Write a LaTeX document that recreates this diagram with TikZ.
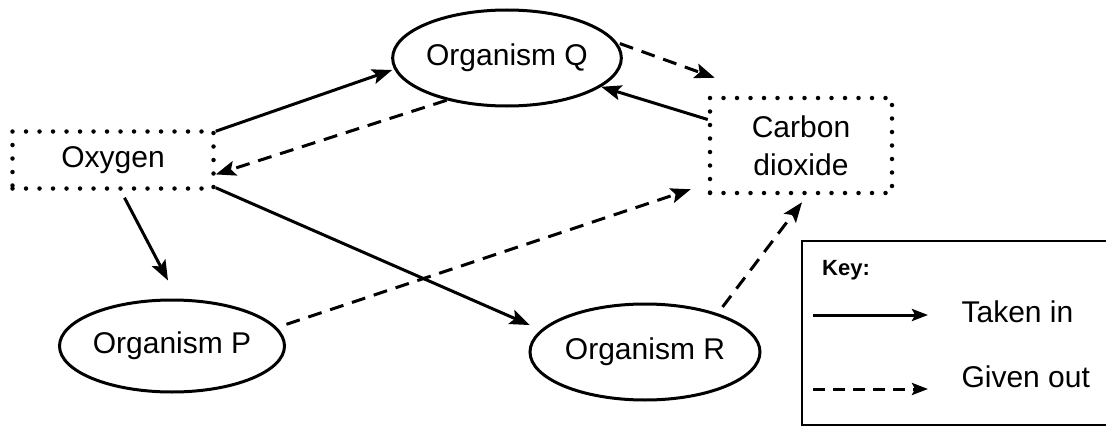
\documentclass[tikz,border=0pt]{standalone}
\usepackage{fontspec}
\setmainfont{Liberation Sans}
\usetikzlibrary{shapes.geometric,arrows.meta}
\begin{document}
\begin{tikzpicture}[x=1pt,y=-1pt,
  every node/.style={font=\fontsize{30}{38}\selectfont},
  org/.style={ellipse,draw,line width=3pt,inner sep=0pt},
  dotbox/.style={draw,line width=4.5pt,dash pattern=on 0pt off 13.5pt,line cap=round,inner sep=0pt,align=center},
  tipA/.style={-{Stealth[length=20pt,width=15pt,inset=4pt]}},
  takein/.style={tipA,line width=3pt},
  giveout/.style={tipA,line width=3pt,dash pattern=on 14pt off 9pt},
  keytip/.style={-{Stealth[length=16pt,width=12pt,inset=3pt]},line width=3pt}]
\useasboundingbox (0,0) rectangle (1106,428);
% nodes
\node[org,minimum width=214pt,minimum height=96pt] (q) at (507,58) {Organism Q};
\node[org,minimum width=225pt,minimum height=92pt] (p) at (172,346) {Organism P};
\node[org,minimum width=230pt,minimum height=96pt] (r) at (645,352) {Organism R};
\node[dotbox,minimum width=201pt,minimum height=57pt] (ox) at (113,160) {Oxygen};
\node[dotbox,minimum width=182pt,minimum height=95pt] (co) at (801,145.5) {Carbon\\dioxide};
% connectors
\draw[takein] ([yshift=-2pt]ox.north east) -- ([xshift=1pt]q.west |- 0,70);
\draw[giveout] (q.215) -- (ox.-8);
\draw[giveout,shorten <=3pt] (q.8) -- ([xshift=7pt,yshift=18pt]co.north west);
\draw[takein] ([yshift=26pt]co.west) -- (q.-17);
\draw[takein] ([xshift=11.5pt,yshift=-7pt]ox.south) -- ([xshift=-4pt,yshift=18pt]p.north);
\draw[takein,shorten >=12pt] ([yshift=3pt]ox.south east) -- (r.168);
\draw[giveout,shorten <=10pt] (p.10) -- ([xshift=-17pt,yshift=6pt]co.south west);
\draw[giveout,shorten <=8pt] (r.28) -- ([xshift=1pt,yshift=-7pt]co.south);
% key
\draw[line width=2pt] (1106,241) -- (802,241) -- (802,425) -- (1106,425);
\node[font=\fontsize{22}{26}\selectfont\bfseries] (key) at (846,270) {Key:};
\coordinate (k1a) at (813,315);
\coordinate (k1b) at (928,315);
\coordinate (k2a) at (813,389);
\coordinate (k2b) at (928,389);
\draw[keytip] (k1a) -- (k1b);
\draw[keytip,dash pattern=on 12pt off 8pt] (k2a) -- (k2b);
\node[anchor=west] (tin) at (958,312) {Taken in};
\node[anchor=west] (gout) at (958,377) {Given out};
\end{tikzpicture}
\end{document}
